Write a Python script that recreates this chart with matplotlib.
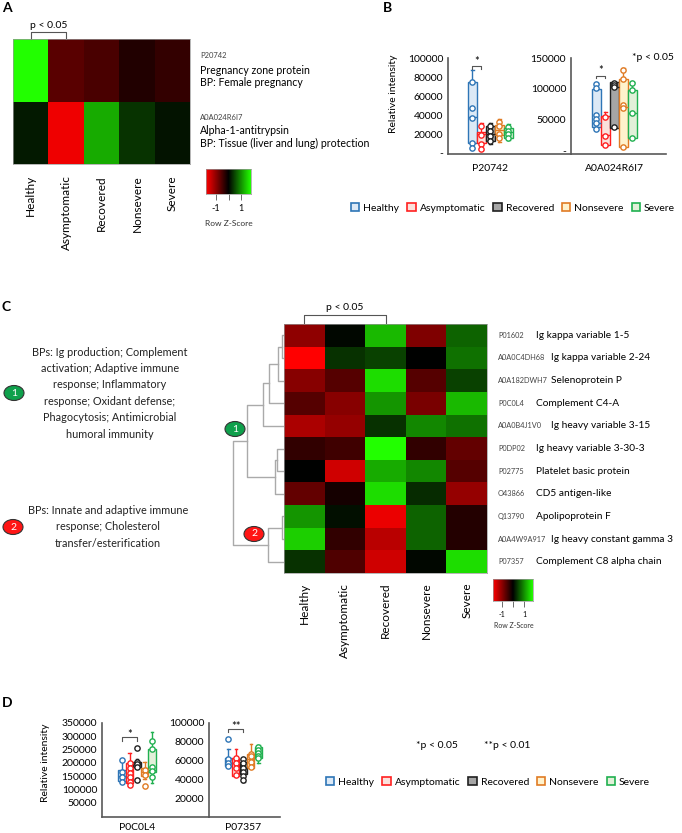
import numpy as np
import matplotlib
matplotlib.use('Agg')
import matplotlib.pyplot as plt
from matplotlib.colors import LinearSegmentedColormap
from matplotlib.patches import Patch, Ellipse
from matplotlib.ticker import FuncFormatter

plt.rcParams['font.family'] = ['Lato', 'DejaVu Sans']

# ---- data ----
groups = ['Healthy', 'Asymptomatic', 'Recovered', 'Nonsevere', 'Severe']

# panel A heatmap (row z-scores)
a_ids = ['P20742', 'A0A024R6I7']
a_names = ['Pregnancy zone protein', 'Alpha-1-antitrypsin']
a_bps = ['BP: Female pregnancy', 'BP: Tissue (liver and lung) protection']
a_z = [[1.8, -0.63, -0.52, -0.23, -0.36],
       [0.18, -1.68, 1.2, 0.36, 0.14]]

# panel C heatmap
c_ids = ['P01602', 'A0A0C4DH68', 'A0A182DWH7', 'P0C0L4', 'A0A0B4J1V0', 'P0DP02',
         'P02775', 'O43866', 'Q13790', 'A0A4W9A917', 'P07357']
c_names = ['Ig kappa variable 1-5', 'Ig kappa variable 2-24', 'Selenoprotein P',
           'Complement C4-A', 'Ig heavy variable 3-15', 'Ig heavy variable 3-30-3',
           'Platelet basic protein', 'CD5 antigen-like', 'Apolipoprotein F',
           'Ig heavy constant gamma 3', 'Complement C8 alpha chain']
c_z = [[-1.0, 0.05, 1.3, -0.9, 0.7],
       [-1.8, 0.35, 0.45, 0.0, 0.8],
       [-0.95, -0.6, 1.55, -0.6, 0.45],
       [-0.6, -0.95, 1.05, -0.85, 1.3],
       [-1.2, -1.05, 0.35, 0.95, 0.8],
       [-0.35, -0.45, 1.8, -0.35, -0.7],
       [0.0, -1.45, 1.2, 0.95, -0.6],
       [-0.7, -0.15, 1.55, 0.3, -1.05],
       [1.05, 0.1, -1.65, 0.7, -0.25],
       [1.45, -0.35, -1.3, 0.7, -0.25],
       [0.35, -0.55, -1.45, 0.05, 1.55]]
# dendrogram merges (left, right, height), leaves 0..10
c_merges = [(0, 1, 2.4), (11, 2, 6.3), (12, 3, 14.7), (13, 4, 21.3),
            (5, 6, 7.3), (15, 7, 9.0), (14, 16, 36.7),
            (8, 9, 2.3), (18, 10, 16.3), (17, 19, 50.7)]

bp1 = ('BPs: Ig production; Complement\nactivation; Adaptive immune\nresponse; Inflammatory\n'
       'response; Oxidant defense;\nPhagocytosis; Antimicrobial\nhumoral immunity')
bp2 = 'BPs: Innate and adaptive immune\nresponse; Cholesterol\ntransfer/esterification'

# box stats: q1, median, q3, whisker low, whisker high
b1_q1 = [10800, 10800, 12600, 19000, 16100]
b1_med = [38200, 20000, 19700, 24200, 21800]
b1_q3 = [75000, 22400, 28400, 29500, 26700]
b1_lo = [5000, 3200, 9100, 11300, 13700]
b1_hi = [87400, 31600, 31200, 35400, 30200]
b1_pts = [[75000, 47000, 37000, 10800, 5000], [28700, 19000, 9500, 3900],
          [28700, 23200, 17900, 12600], [33000, 28700, 20000, 16100],
          [27700, 23200, 19700, 16100]]

b2_q1 = [39200, 9700, 37600, 6000, 21500]
b2_med = [45600, 25800, 103700, 71500, 60800]
b2_q3 = [99500, 56500, 110800, 116100, 98400]
b2_lo = [33900, 8600, 36600, 4400, 20500]
b2_hi = [109200, 63400, 111800, 133400, 111800]
b2_pts = [[108000, 101100, 58000, 51100, 44700, 35500], [55300, 24200, 9700],
          [109200, 106400, 102700, 38200], [130600, 116100, 74200, 68900, 6000],
          [109200, 98400, 60800, 21500]]

d1_q1 = [133000, 123000, 185600, 150500, 166700]
d1_med = [150500, 145600, 195000, 166700, 173000]
d1_q3 = [173000, 198000, 204000, 179500, 251000]
d1_lo = [123000, 113000, 185600, 138000, 125000]
d1_hi = [213000, 236000, 214500, 202000, 317000]
d1_pts = [[210700, 166700, 148000, 129000],
          [198000, 179000, 160600, 145600, 129000, 116700],
          [254700, 204000, 194600, 185600, 135500],
          [173000, 154000, 113000],
          [283000, 251000, 185600, 170000, 145600]]

d2_q1 = [54600, 43600, 45400, 51800, 62400]
d2_med = [57700, 57000, 51800, 61200, 68400]
d2_q3 = [63000, 63000, 58800, 66700, 74800]
d2_lo = [53300, 43600, 37600, 51800, 57000]
d2_hi = [72000, 72000, 63000, 77300, 76600]
d2_pts = [[82700, 61500, 57700, 54600], [63000, 57000, 51800, 44700],
          [61900, 57700, 52600, 48400, 43100, 39500],
          [66700, 64600, 58900, 53300], [74000, 71600, 68400, 65200, 62400]]

edge_cols = ['#2e75b6', '#ff2020', '#202020', '#e07b24', '#20b050']
fill_cols = ['#dce9f6', '#fbe1dc', '#a6a6a6', '#fff2cc', '#e2f0d9']

# ---- figure helpers ----
W, H = 682, 833
fig = plt.figure(figsize=(W / 100, H / 100), dpi=100)
cmap = LinearSegmentedColormap.from_list('rg', ['#ff0000', '#000000', '#22ff00'])
ZMAX = 1.8


def add_ax(x0, y0, x1, y1):
    return fig.add_axes([x0 / W, 1 - y1 / H, (x1 - x0) / W, (y1 - y0) / H])


def ftext(x, y, s, **kw):
    kw.setdefault('ha', 'left')
    kw.setdefault('va', 'center')
    return fig.text(x / W, 1 - y / H, s, **kw)


def heatmap(ax, z, pad):
    z = np.array(z)
    ax.pcolormesh(z, cmap=cmap, vmin=-ZMAX, vmax=ZMAX)
    ax.set_xlim(0, z.shape[1])
    ax.set_ylim(z.shape[0], 0)
    ax.set_xticks(np.arange(z.shape[1]) + 0.5, groups, rotation=90, fontsize=8.5)
    ax.set_yticks([])
    ax.tick_params(length=0, pad=pad)
    for s in ax.spines.values():
        s.set_color('#999999')
        s.set_linewidth(0.5)


def colorbar(ax, fs):
    g = np.linspace(-ZMAX, ZMAX, 256)[None, :]
    ax.imshow(g, cmap=cmap, aspect='auto', extent=[-ZMAX, ZMAX, 0, 1])
    ax.set_yticks([])
    ax.set_xticks([-1, 0, 1], ['-1', '', '1'], fontsize=fs)
    ax.tick_params(length=4, width=0.6, pad=3, color='#555555')
    for s in ax.spines.values():
        s.set_color('#999999')
        s.set_linewidth(0.5)


def bracket(ax, x0, x1, ytop, yend, label, ty, fs=7.5):
    ax.plot([x0, x0, x1, x1], [yend, ytop, ytop, yend], color='#555555', lw=0.8, clip_on=False)
    ax.text((x0 + x1) / 2, ty, label, ha='center', va='center', fontsize=fs, clip_on=False)


def boxes(ax, q1, med, q3, lo, hi, pts, center, width, ylim, ticks, fmt, label):
    pos = center + np.arange(5) - 2
    stats = [dict(q1=q1[i], med=med[i], q3=q3[i], whislo=lo[i], whishi=hi[i], fliers=[])
             for i in range(5)]
    bp = ax.bxp(stats, positions=pos, widths=width, patch_artist=True, showfliers=False,
                capwidths=width * 0.35, manage_ticks=False)
    for i in range(5):
        bp['boxes'][i].set(facecolor=fill_cols[i], edgecolor=edge_cols[i], lw=1.0)
        bp['medians'][i].set(color=edge_cols[i], lw=1.0)
        for k in (2 * i, 2 * i + 1):
            bp['whiskers'][k].set(color=edge_cols[i], lw=1.0)
            bp['caps'][k].set(color=edge_cols[i], lw=1.0)
        ax.plot([pos[i]] * len(pts[i]), pts[i], 'o', ms=3.8, mfc='white',
                mec=edge_cols[i], mew=1.0, zorder=4)
    ax.set_ylim(*ylim)
    ax.set_yticks(ticks)
    ax.yaxis.set_major_formatter(FuncFormatter(fmt))
    ax.set_xticks([center], [label])
    ax.tick_params(length=0, labelsize=7.5)
    for s in ('top', 'right'):
        ax.spines[s].set_visible(False)
    for s in ('left', 'bottom'):
        ax.spines[s].set_color('#595959')
        ax.spines[s].set_linewidth(1.2)
    ax.patch.set_alpha(0)


def num_fmt(v, _):
    return '-' if v == 0 else '%d' % v


def legend_at(x, y):
    handles = [Patch(facecolor=fill_cols[i], edgecolor=edge_cols[i], lw=1.2, label=groups[i])
               for i in range(5)]
    fig.legend(handles=handles, loc='center', bbox_to_anchor=(x / W, 1 - y / H), ncol=5,
               frameon=False, fontsize=7.5, handlelength=0.8, handleheight=0.8,
               handletextpad=0.4, columnspacing=0.75, borderpad=0)


# ---- panel A ----
ftext(2, 8, 'A', fontsize=10, fontweight='bold')
axA = add_ax(13, 39, 190, 164)
heatmap(axA, a_z, 8)
bracket(axA, 0.5, 1.5, -0.11, 0, 'p < 0.05', -0.21)
for i, y0 in enumerate([56, 117]):
    ftext(200, y0, a_ids[i], fontsize=5.5, color='#444444')
    ftext(200, y0 + 14, a_names[i], fontsize=7.6)
    ftext(200, y0 + 26, a_bps[i], fontsize=7.6)
axAc = add_ax(206, 169, 251, 194)
colorbar(axAc, 6.5)
ftext(228.5, 223, 'Row Z-Score', fontsize=6, ha='center', color='#333333')

# ---- panel B ----
ftext(383, 8, 'B', fontsize=10, fontweight='bold')
axB1 = add_ax(448, 58, 571, 154)
axB1.set_xlim(0, 123 / 9)
boxes(axB1, b1_q1, b1_med, b1_q3, b1_lo, b1_hi, b1_pts, 4.72, 0.95, (-1000, 100000),
      [0, 20000, 40000, 60000, 80000, 100000], num_fmt, 'P20742')
axB1.tick_params(axis='x', pad=7)
bracket(axB1, 2.72, 3.72, 91600, 88400, '*', 96800, fs=8)
axB2 = add_ax(571, 58, 666, 154)
axB2.set_xlim(0, 95 / 9)
boxes(axB2, b2_q1, b2_med, b2_q3, b2_lo, b2_hi, b2_pts, 4.83, 0.95, (-5000, 150000),
      [0, 50000, 100000, 150000], num_fmt, 'A0A024R6I7')
axB2.tick_params(axis='x', pad=7)
bracket(axB2, 2.83, 3.83, 121500, 117700, '*', 130600, fs=8)
ftext(393, 94, 'Relative intensity', fontsize=7.5, rotation=90, ha='center')
ftext(653, 58, '*p < 0.05', fontsize=7.5, ha='center')
legend_at(513, 208)

# ---- panel C ----
ftext(2, 307, 'C', fontsize=10, fontweight='bold')
axC = add_ax(284, 324, 487, 573)
heatmap(axC, c_z, 7)
bracket(axC, 0.5, 2.5, -0.4, -0.05, 'p < 0.05', -0.72)
for i in range(len(c_ids)):
    yc = 324 + (i + 0.5) * (249 / 11)
    ftext(498, yc, c_ids[i], fontsize=5.3, color='#444444')
    ftext(551 if len(c_ids[i]) > 6 else 536, yc, c_names[i], fontsize=7.3)
axCc = add_ax(493, 579, 533, 601)
colorbar(axCc, 5)
ftext(514, 626, 'Row Z-Score', fontsize=5, ha='center', color='#333333')

# dendrogram
axDen = add_ax(225, 324, 284, 573)
axDen.set_xlim(59, 0)
axDen.set_ylim(11, 0)
axDen.axis('off')
node_y = {i: i + 0.5 for i in range(11)}
node_h = {i: 0.0 for i in range(11)}
for k, (l, r, h) in enumerate(c_merges):
    axDen.plot([node_h[l], h, h, node_h[r]], [node_y[l], node_y[l], node_y[r], node_y[r]],
               color='#aaaaaa', lw=1.0)
    node_y[11 + k] = (node_y[l] + node_y[r]) / 2
    node_h[11 + k] = h


def badge(x, y, s, fc):
    fig.add_artist(Ellipse((x / W, 1 - y / H), 20 / W, 15 / H, transform=fig.transFigure,
                           facecolor=fc, edgecolor='#333333', lw=0.8, zorder=5))
    t = ftext(x, y, s, fontsize=7.5, color='white', ha='center')
    t.set_zorder(6)


badge(235, 429, '1', '#0fa04c')
badge(254, 534, '2', '#ff1515')
badge(14, 393, '1', '#0fa04c')
badge(13, 527, '2', '#ff1515')
ftext(110, 393, bp1, fontsize=7.8, ha='center', linespacing=1.6, color='#222222')
ftext(108, 527, bp2, fontsize=7.8, ha='center', linespacing=1.6, color='#222222')

# ---- panel D ----
ftext(2, 703, 'D', fontsize=10, fontweight='bold')
axD1 = add_ax(102, 723, 209, 817)
axD1.set_xlim(0, 107 / 7.5)
boxes(axD1, d1_q1, d1_med, d1_q3, d1_lo, d1_hi, d1_pts, 4.67, 0.95, (-3700, 350000),
      [50000, 100000, 150000, 200000, 250000, 300000, 350000], num_fmt, 'P0C0L4')
axD1.tick_params(axis='x', pad=4)
bracket(axD1, 2.67, 4.67, 298400, 283300, '*', 308600, fs=8)
axD2 = add_ax(209, 723, 280, 817)
axD2.set_xlim(0, 71 / 7.5)
boxes(axD2, d2_q1, d2_med, d2_q3, d2_lo, d2_hi, d2_pts, 4.57, 0.95, (0, 100000),
      [20000, 40000, 60000, 80000, 100000], num_fmt, 'P07357')
axD2.tick_params(axis='x', pad=4)
bracket(axD2, 2.57, 4.57, 93600, 90400, '**', 96100, fs=8)
ftext(45, 763, 'Relative intensity', fontsize=7.5, rotation=90, ha='center')
ftext(437, 746, '*p < 0.05', fontsize=7.5, ha='center')
ftext(507, 746, '**p < 0.01', fontsize=7.5, ha='center')
legend_at(488, 782)

fig.savefig('out.png', dpi=100)
